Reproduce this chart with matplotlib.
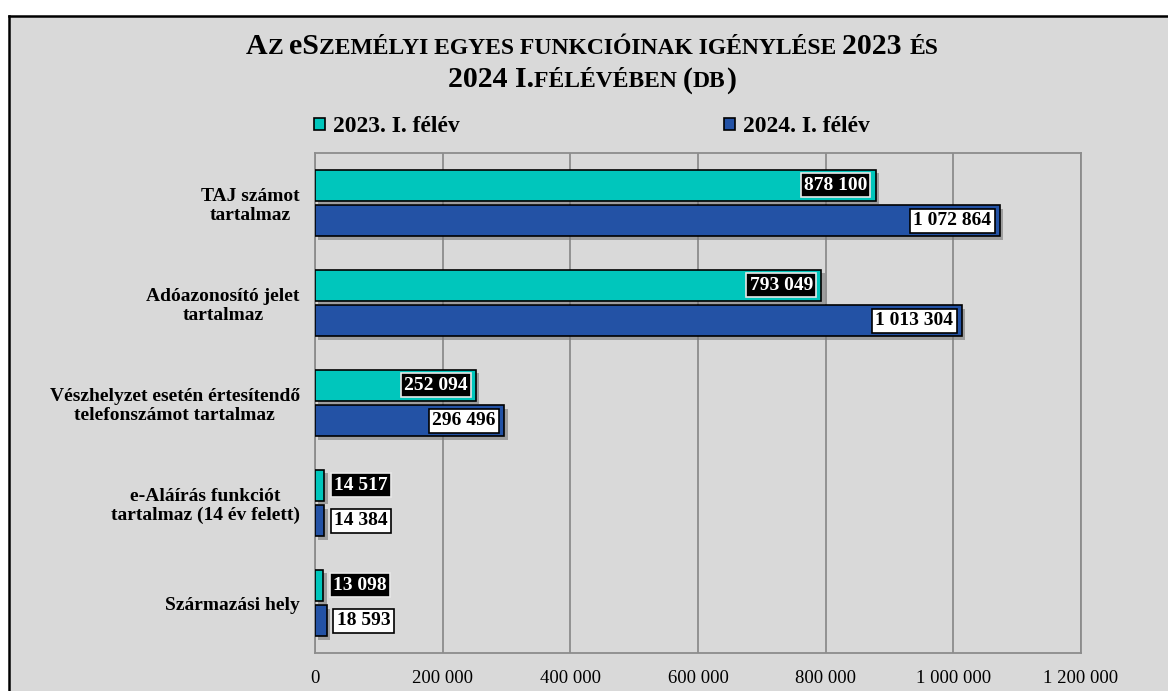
import matplotlib
matplotlib.use("Agg")
import matplotlib.pyplot as plt
import numpy as np
from matplotlib.patches import Rectangle, Patch
from matplotlib.lines import Line2D
from matplotlib.offsetbox import TextArea, HPacker, AnchoredOffsetbox
import matplotlib.patheffects as pe

categories = ["TAJ számot\ntartalmaz",
              "Adóazonosító jelet\ntartalmaz",
              "Vészhelyzet esetén értesítendő\ntelefonszámot tartalmaz",
              "e-Aláírás funkciót\ntartalmaz (14 év felett)",
              "Származási hely"]
series_names = ["2023. I. félév", "2024. I. félév"]
values_2023 = [878100, 793049, 252094, 14517, 13098]
values_2024 = [1072864, 1013304, 296496, 14384, 18593]
xticks = [0, 200000, 400000, 600000, 800000, 1000000, 1200000]

FONT = "Liberation Serif"
C23 = "#00C6BC"
C24 = "#2352A5"
BG = "#D9D9D9"

def fmt(v):
    return f"{v:,}".replace(",", " ")

W, H = 1168, 691
fig = plt.figure(figsize=(W/100, H/100), dpi=100)
fig.patch.set_facecolor("white")
# outer chart frame (extends past right and bottom edges)
fig.patches.append(Rectangle((9/W, 0), 1, 1 - 16/H, transform=fig.transFigure,
                             facecolor=BG, edgecolor="none", zorder=-10))
fig.add_artist(Line2D([9/W, 1], [1 - 16/H, 1 - 16/H], transform=fig.transFigure,
                      color="black", linewidth=1.8, solid_capstyle="projecting"))
fig.add_artist(Line2D([9/W, 9/W], [0, 1 - 16/H], transform=fig.transFigure,
                      color="black", linewidth=1.8, solid_capstyle="projecting"))

ax = fig.add_axes([315/W, 1 - 653/H, (1081-315)/W, (653-153)/H])
ax.set_facecolor(BG)

y = np.arange(len(categories))
h = 0.31
off = 0.178
shadow = [pe.SimplePatchShadow(offset=(2.5, -2.5), shadow_rgbFace="#777777", alpha=0.6), pe.Normal()]
b1 = ax.barh(y - off, values_2023, height=h, color=C23, edgecolor="black", linewidth=1.2, zorder=3)
b2 = ax.barh(y + off, values_2024, height=h, color=C24, edgecolor="black", linewidth=1.2, zorder=3)
for b in list(b1) + list(b2):
    b.set_path_effects(shadow)

ax.set_xlim(0, 1200000)
ax.set_ylim(4.5, -0.5)
ax.set_xticks(xticks)
ax.set_xticklabels([fmt(v) for v in xticks], fontfamily=FONT, fontsize=13.5)
ax.set_yticks(y)
ax.set_yticklabels(categories, fontfamily=FONT, fontsize=14, fontweight="bold",
                   ha="right", multialignment="center", linespacing=1.15)
ax.tick_params(axis="y", length=0, pad=11)
ax.tick_params(axis="x", length=0, pad=12)
ax.xaxis.grid(True, color="#8C8C8C", linewidth=1.3, zorder=0)
ax.set_axisbelow(True)
for s in ax.spines.values():
    s.set_color("#8C8C8C")
    s.set_linewidth(1.3)

# data labels
fig.canvas.draw()
def px_width(v):
    return ax.transData.transform((v, 0))[0] - ax.transData.transform((0, 0))[0]

for vals, yy, fc, tc, ec in [(values_2023, y - off, "black", "white", "#E8E8E8"),
                             (values_2024, y + off, "white", "black", "black")]:
    for v, yp in zip(vals, yy):
        inside = px_width(v) > 120
        kw = dict(va="center", fontfamily=FONT, fontsize=14, fontweight="bold",
                  color=tc, zorder=5, textcoords="offset points",
                  bbox=dict(boxstyle="square,pad=0.17", facecolor=fc, edgecolor=ec, linewidth=1.2))
        if inside:
            ax.annotate(fmt(v), (v, yp), xytext=(-6, 0), ha="right", **kw)
        else:
            ax.annotate(fmt(v), (v, yp), xytext=(7, 0), ha="left", **kw)

# legend
handles = [Patch(facecolor=C23, edgecolor="black", linewidth=1.2),
           Patch(facecolor=C24, edgecolor="black", linewidth=1.2)]
leg = fig.legend(handles, series_names, loc="center left",
                 bbox_to_anchor=(314/W, 1 - 127/H), ncol=2, frameon=False,
                 prop=dict(family=FONT, size=17, weight="bold"),
                 handlelength=0.45, handleheight=0.45, handletextpad=0.35,
                 columnspacing=11.2, borderaxespad=0, borderpad=0)

# title in small caps
BIG, SMALL = 21.5, 17
def smallcaps_line(text, keep_lower=()):
    pieces = []
    cur, cur_size = "", None
    for i, ch in enumerate(text):
        if i in keep_lower:
            c, size = ch, BIG
        elif ch.isupper() or ch.isdigit() or ch in "().":
            c, size = ch, BIG
        elif ch == " ":
            c, size = ch, cur_size or SMALL
        else:
            c, size = ch.upper(), SMALL
        if size != cur_size and cur:
            pieces.append((cur, cur_size))
            cur = ""
        cur += c
        cur_size = size
    if cur:
        pieces.append((cur, cur_size))
    boxes = [TextArea(t, textprops=dict(family=FONT, size=s, weight="bold", color="black"))
             for t, s in pieces]
    return HPacker(children=boxes, align="baseline", pad=0, sep=0)

line1 = "Az eSzemélyi egyes funkcióinak igénylése 2023 és"
line2 = "2024 I.félévében (db)"
for txt, yc, kl in [(line1, 47, (3,)), (line2, 80, ())]:
    hp = smallcaps_line(txt, kl)
    ab = AnchoredOffsetbox(loc="center", child=hp, pad=0, frameon=False,
                           bbox_to_anchor=(592/W, 1 - yc/H),
                           bbox_transform=fig.transFigure, borderpad=0)
    fig.add_artist(ab)

fig.savefig("out.png", dpi=100, facecolor=fig.get_facecolor())
